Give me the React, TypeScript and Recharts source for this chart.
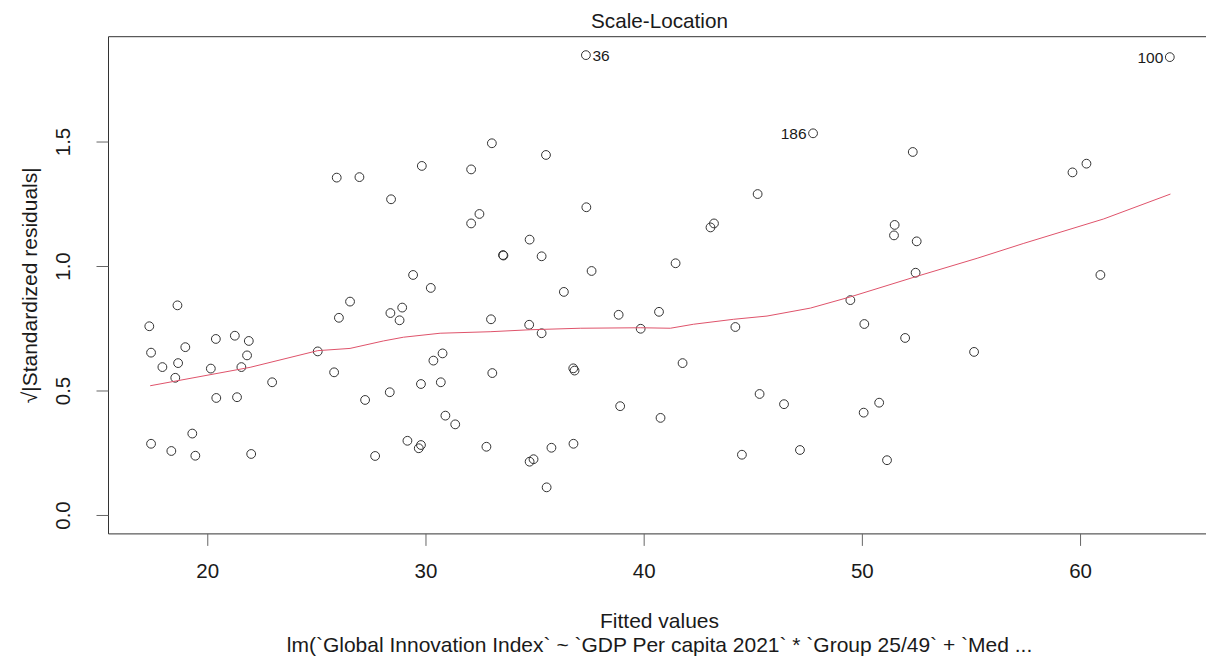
import { ScatterChart, Scatter, XAxis, YAxis, ReferenceArea } from 'recharts';

// fitted values and sqrt(|standardized residuals|)
const fittedValues = [
  17.32, 17.4, 17.92, 18.51, 18.61, 18.64, 18.97, 20.14, 20.37, 20.39,
  21.24, 21.34, 21.54, 21.8, 21.88, 22.95, 25.04, 25.79, 26.01, 26.52,
  17.4, 18.33, 19.29, 19.43, 21.99, 30.22, 28.37, 28.91, 28.79, 32.98,
  34.73, 35.3, 36.32, 30.76, 30.34, 29.77, 30.68, 33.04, 28.34, 27.21,
  30.89, 31.34, 36.75, 36.81, 29.15, 29.77, 29.67, 32.77, 27.67, 34.75,
  34.93, 35.75, 36.76, 35.53, 38.83, 40.68, 39.84, 44.18, 41.76, 38.9,
  40.75, 45.29, 46.41, 44.48, 47.14, 49.45, 50.09, 51.96, 55.12, 50.77,
  50.06, 51.13, 25.91, 26.95, 29.81, 33.02, 35.5, 32.07, 28.4, 32.45,
  32.07, 34.75, 33.53, 33.55, 35.3, 29.41, 37.35, 45.2, 43.2, 43.04,
  41.44, 37.59, 52.31, 59.63, 60.27, 51.48, 51.45, 52.49, 52.44, 60.91,
];
const sqrtStdResiduals = [
  0.76, 0.654, 0.596, 0.553, 0.844, 0.612, 0.676, 0.59, 0.709, 0.472,
  0.722, 0.475, 0.596, 0.643, 0.701, 0.535, 0.659, 0.575, 0.794, 0.859,
  0.288, 0.259, 0.329, 0.24, 0.247, 0.914, 0.813, 0.835, 0.784, 0.788,
  0.766, 0.732, 0.898, 0.651, 0.622, 0.528, 0.535, 0.572, 0.495, 0.464,
  0.401, 0.366, 0.591, 0.582, 0.3, 0.283, 0.27, 0.276, 0.239, 0.216,
  0.226, 0.272, 0.288, 0.113, 0.806, 0.818, 0.75, 0.757, 0.612, 0.439,
  0.392, 0.488, 0.447, 0.244, 0.263, 0.865, 0.769, 0.713, 0.657, 0.453,
  0.413, 0.222, 1.357, 1.359, 1.404, 1.495, 1.448, 1.39, 1.27, 1.211,
  1.173, 1.108, 1.046, 1.044, 1.041, 0.966, 1.238, 1.291, 1.173, 1.157,
  1.013, 0.982, 1.46, 1.378, 1.413, 1.167, 1.125, 1.101, 0.975, 0.966,
];

// the three labelled observations
const labelledIds = ['36', '186', '100'];
const labelledFitted = [37.33, 47.74, 64.09];
const labelledResiduals = [1.849, 1.535, 1.841];

// lowess smoother
const smoothFitted = [
  17.36, 21.94, 25.04, 26.52, 28.05, 28.97, 30.65, 32.94, 34.78, 37.07, 39.82,
  41.2, 42.26, 44.1, 45.63, 47.62, 49.45, 52.44, 55.26, 57.4, 61.06, 64.12,
];
const smoothResiduals = [
  0.521, 0.595, 0.662, 0.671, 0.701, 0.716, 0.732, 0.738, 0.746, 0.752, 0.754,
  0.752, 0.768, 0.788, 0.801, 0.833, 0.878, 0.959, 1.033, 1.093, 1.191, 1.291,
];

const xTicks = [20, 30, 40, 50, 60];
const yTicks = [0, 0.5, 1, 1.5];

const X_DOMAIN: [number, number] = [15.45, 65.96];
const Y_DOMAIN: [number, number] = [-0.074, 1.923];
const FONT = '"Liberation Sans", Arial, Helvetica, sans-serif';
const TEXT = '#1a1a1a';

const points = fittedValues.map((f, i) => ({ fitted: f, resid: sqrtStdResiduals[i] }));
const labelled = labelledIds.map((id, i) => ({
  id,
  fitted: labelledFitted[i],
  resid: labelledResiduals[i],
}));
const smooth = smoothFitted.map((f, i) => ({ fitted: f, resid: smoothResiduals[i] }));

const midX = (Math.min(...fittedValues, ...labelledFitted) + Math.max(...fittedValues, ...labelledFitted)) / 2;

const OpenCircle = ({ cx, cy }: any) => (
  <circle cx={cx} cy={cy} r={4.4} fill="none" stroke="#333" strokeWidth={1} />
);

const LabelledCircle = ({ cx, cy, payload }: any) => {
  const left = payload.fitted > midX;
  return (
    <g>
      <circle cx={cx} cy={cy} r={4.4} fill="none" stroke="#333" strokeWidth={1} />
      <text
        x={left ? cx - 6.5 : cx + 6.5}
        y={cy}
        dy="0.36em"
        textAnchor={left ? 'end' : 'start'}
        fontSize={15.5}
        fontFamily={FONT}
        fill={TEXT}
      >
        {payload.id}
      </text>
    </g>
  );
};

const XTick = ({ x, y, payload }: any) => (
  <text x={x} y={y} dy={32} textAnchor="middle" fontSize={20.5} fontFamily={FONT} fill={TEXT}>
    {payload.value}
  </text>
);

const YTick = ({ x, y, payload }: any) => {
  const bx = x - 26.5;
  return (
    <text
      x={bx}
      y={y}
      transform={`rotate(-90, ${bx}, ${y})`}
      textAnchor="middle"
      fontSize={20.5}
      fontFamily={FONT}
      fill={TEXT}
    >
      {payload.value.toFixed(1)}
    </text>
  );
};

export default function App() {
  return (
    <div
      style={{
        position: 'absolute',
        left: 0,
        top: 0,
        width: 1206,
        height: 660,
        overflow: 'hidden',
        background: '#fff',
      }}
    >
      <ScatterChart width={1214} height={660} margin={{ top: 36.7, right: 3.4, bottom: 0, left: 0 }}>
        <XAxis
          type="number"
          dataKey="fitted"
          domain={X_DOMAIN}
          ticks={xTicks}
          allowDataOverflow
          height={126.1}
          axisLine={false}
          tickSize={12}
          tickMargin={0}
          tickLine={{ stroke: '#666' }}
          tick={<XTick />}
        />
        <YAxis
          type="number"
          dataKey="resid"
          domain={Y_DOMAIN}
          ticks={yTicks}
          allowDataOverflow
          width={108.5}
          axisLine={false}
          tickSize={12}
          tickMargin={0}
          tickLine={{ stroke: '#666' }}
          tick={<YTick />}
        />
        <ReferenceArea
          x1={X_DOMAIN[0]}
          x2={X_DOMAIN[1]}
          y1={Y_DOMAIN[0]}
          y2={Y_DOMAIN[1]}
          fill="none"
          stroke="#333"
          strokeWidth={1}
          ifOverflow="visible"
        />
        <Scatter data={points} shape={<OpenCircle />} isAnimationActive={false} />
        <Scatter data={labelled} shape={<LabelledCircle />} isAnimationActive={false} />
        <Scatter
          data={smooth}
          line={{ stroke: '#DF536B', strokeWidth: 1 }}
          lineType="joint"
          shape={() => <g />}
          isAnimationActive={false}
        />
      </ScatterChart>
      <svg
        width={1206}
        height={660}
        style={{ position: 'absolute', left: 0, top: 0, pointerEvents: 'none' }}
        fontFamily={FONT}
        fill={TEXT}
      >
        <text x={659.5} y={27.5} textAnchor="middle" fontSize={20.7}>
          Scale-Location
        </text>
        <text x={659.5} y={628} textAnchor="middle" fontSize={21}>
          Fitted values
        </text>
        <text x={659.5} y={652} textAnchor="middle" fontSize={21}>
          lm(`Global Innovation Index` ~ `GDP Per capita 2021` * `Group 25/49` + `Med ...
        </text>
        <text
          x={36.7}
          y={285.3}
          transform="rotate(-90, 36.7, 285.3)"
          textAnchor="middle"
          fontSize={21}
        >
          √|Standardized residuals|
        </text>
      </svg>
    </div>
  );
}
